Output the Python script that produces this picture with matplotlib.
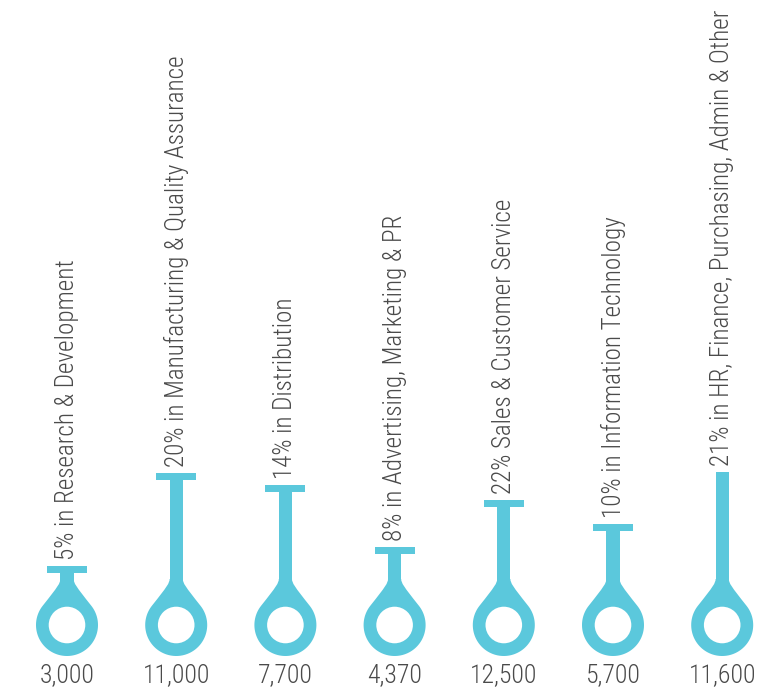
import numpy as np
import matplotlib
matplotlib.use('Agg')
import matplotlib.pyplot as plt
from matplotlib.path import Path
from matplotlib.patches import PathPatch, Circle, Rectangle

# departments, headcount and share of staff
labels = ['5% in Research & Development',
          '20% in Manufacturing & Quality Assurance',
          '14% in Distribution',
          '8% in Advertising, Marketing & PR',
          '22% Sales & Customer Service',
          '10% in Information Technology',
          '21% in HR, Finance, Purchasing, Admin & Other']
counts = ['3,000', '11,000', '7,700', '4,370', '12,500', '5,700', '11,600']
# stem height of each marker above the ring centre
levels = [59, 152, 140, 78, 125, 101, 153]
has_cap = [True, True, True, True, True, True, False]

blue = '#5bc8dc'
grey = '#4a4a4a'
font = ['Roboto Condensed', 'DejaVu Sans Condensed', 'Liberation Sans Narrow', 'Roboto']

R, r_hole = 31, 18.3
half_stem, cap_w, cap_h = 6.6, 40, 6.5


def drop_path(cx):
    # ring body tapering into the stem
    ang = np.deg2rad(51.6)
    tx, ty = R * np.sin(ang), R * np.cos(ang)
    verts, codes = [], []
    verts += [(cx + half_stem, 46), (cx + half_stem, 42), (cx + 9, 38.5), (cx + tx, ty)]
    codes += [Path.MOVETO, Path.CURVE4, Path.CURVE4, Path.CURVE4]
    t = np.linspace(np.pi / 2 - ang, -3 * np.pi / 2 + ang, 80)
    for a in t[1:]:
        verts.append((cx + R * np.cos(a), R * np.sin(a)))
        codes.append(Path.LINETO)
    verts += [(cx - 9, 38.5), (cx - half_stem, 42), (cx - half_stem, 46), (0, 0)]
    codes += [Path.CURVE4, Path.CURVE4, Path.CURVE4, Path.CLOSEPOLY]
    return Path(verts, codes)


fig = plt.figure(figsize=(7.61, 6.89), dpi=100)
ax = fig.add_axes([0, 0, 1, 1])
ax.set_xlim(0, 761)
ax.set_ylim(-64, 625)
ax.axis('off')

xs = 67 + 109.2 * np.arange(len(labels))
for x, lab, cnt, lev, cap in zip(xs, labels, counts, levels, has_cap):
    ax.add_patch(PathPatch(drop_path(x), fc=blue, ec='none'))
    ax.add_patch(Rectangle((x - half_stem, 40), 2 * half_stem, lev - 40, fc=blue, ec='none'))
    if cap:
        ax.add_patch(Rectangle((x - cap_w / 2, lev - cap_h), cap_w, cap_h, fc=blue, ec='none'))
    ax.add_patch(Circle((x, 0), r_hole, fc='white', ec='none'))
    ax.text(x, lev + 6, lab, rotation=90, rotation_mode='anchor', ha='left',
            va='center', fontsize=18.1, color=grey, family=font, fontweight='light',
            fontstretch='condensed')
    ax.text(x, -50, cnt, ha='center', va='center', fontsize=18.5, color=grey,
            family=font, fontweight='light', fontstretch='condensed')

fig.savefig('out.png', dpi=100, facecolor='white')
